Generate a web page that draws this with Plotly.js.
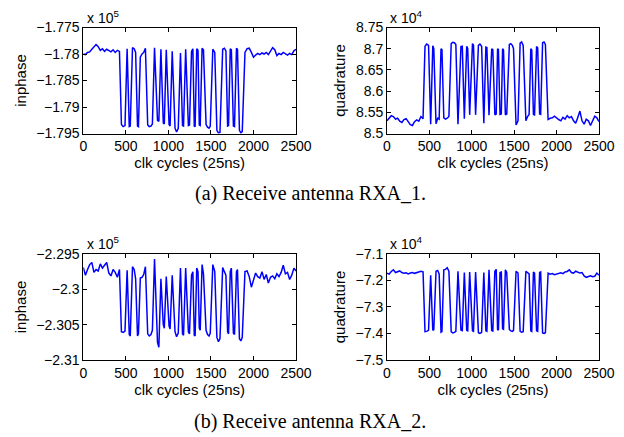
<!DOCTYPE html>
<html>
<head>
<meta charset="utf-8">
<script src="https://cdn.plot.ly/plotly-3.0.1.min.js"></script>
<style>
  html, body { margin: 0; padding: 0; background: #ffffff; }
  #chart { width: 624px; height: 437px; }
</style>
</head>
<body>
<div id="chart"></div>
<script>
// Clock cycle sample positions (shared by all four traces)
const cycles = [
  0,25,50,75,100,125,150,175,200,225,250,275,300,325,350,375,400,425,
  448,468,490, 515, 540,552, 578,598,615, 637,648, 670,690,710,730,
  757,775,795,812, 837, 872,888, 912, 940,952, 975, 1008,1020, 1045,
  1078,1096,1116, 1142, 1166,1178, 1203, 1235,1248, 1272,1288, 1304,1314,
  1333,1348, 1363,1374, 1396,1412, 1443,1460,1478,1492, 1522,1545,
  1570,1588,1606, 1638,1658,1676, 1696,1707, 1727,1740, 1764,1777,
  1800,1812, 1835,1852,1868,
  1900,1925,1950,1975,2000,2025,2050,2075,2100,2125,2150,2175,2200,
  2225,2250,2275,2300,2325,2350,2375,2400,2425,2450,2475,2500
];

// (a) RXA_1 inphase, in units of 1e5
const inphaseRxa1 = [
  -1.7800,-1.7801,-1.7797,-1.7796,-1.7791,-1.7787,-1.7782,-1.7786,-1.7793,-1.7790,-1.7795,-1.7791,-1.7794,-1.7796,-1.7792,-1.7797,-1.7793,-1.7795,
  -1.7933,-1.7937,-1.7935, -1.7790, -1.7937,-1.7936, -1.7788,-1.7790,-1.7797, -1.7936,-1.7937, -1.7806,-1.7800,-1.7797,-1.7789,
  -1.7934,-1.7937,-1.7936,-1.7932, -1.7788, -1.7925,-1.7927, -1.7791, -1.7930,-1.7932, -1.7792, -1.7933,-1.7936, -1.7795,
  -1.7940,-1.7947,-1.7940, -1.7798, -1.7935,-1.7936, -1.7791, -1.7935,-1.7934, -1.7795,-1.7790, -1.7936,-1.7937,
  -1.7790,-1.7793, -1.7934,-1.7935, -1.7789,-1.7792, -1.7933,-1.7938,-1.7940,-1.7936, -1.7791,-1.7797,
  -1.7944,-1.7949,-1.7948, -1.7791,-1.7789,-1.7794, -1.7936,-1.7935, -1.7790,-1.7792, -1.7936,-1.7937,
  -1.7789,-1.7791, -1.7944,-1.7949,-1.7946,
  -1.7797,-1.7790,-1.7789,-1.7797,-1.7806,-1.7802,-1.7799,-1.7801,-1.7798,-1.7800,-1.7797,-1.7801,-1.7795,
  -1.7788,-1.7792,-1.7803,-1.7799,-1.7801,-1.7797,-1.7800,-1.7802,-1.7799,-1.7801,-1.7794,-1.7791
];

// (a) RXA_1 quadrature, in units of 1e4
const quadratureRxa1 = [
  8.530,8.537,8.542,8.540,8.534,8.536,8.529,8.526,8.533,8.535,8.527,8.521,8.519,8.528,8.532,8.529,8.540,8.535,
  8.706,8.711,8.708, 8.522, 8.707,8.700, 8.523,8.536,8.534, 8.700,8.698, 8.537,8.534,8.536,8.540,
  8.712,8.715,8.714,8.710, 8.522, 8.705,8.706, 8.535, 8.706,8.700, 8.544, 8.712,8.708, 8.544,
  8.708,8.711,8.706, 8.524, 8.704,8.703, 8.543, 8.700,8.698, 8.544,8.546, 8.700,8.698,
  8.545,8.546, 8.700,8.697, 8.544,8.546, 8.710,8.712,8.708,8.700, 8.520,8.530,
  8.713,8.716,8.708, 8.530,8.540,8.545, 8.700,8.697, 8.545,8.544, 8.705,8.702,
  8.546,8.545, 8.714,8.716,8.710,
  8.533,8.536,8.537,8.541,8.536,8.533,8.530,8.538,8.534,8.542,8.537,8.540,8.530,
  8.524,8.538,8.553,8.530,8.522,8.534,8.530,8.519,8.530,8.541,8.537,8.528
];

// (b) RXA_2 inphase, in units of 1e5
const inphaseRxa2 = [
  -2.2969,-2.2980,-2.2972,-2.2965,-2.2962,-2.2976,-2.2972,-2.2974,-2.2964,-2.2970,-2.2966,-2.2962,-2.2977,-2.2981,-2.2972,-2.2976,-2.2983,-2.2972,
  -2.3060,-2.3061,-2.3059, -2.2973, -2.3064,-2.3066, -2.2968,-2.2972,-2.2985, -2.3066,-2.3063, -2.2984,-2.2983,-2.2979,-2.2968,
  -2.3063,-2.3066,-2.3064,-2.3058, -2.2957, -2.3075,-2.3082, -2.2985, -2.3050,-2.3055, -2.2982, -2.3052,-2.3056, -2.2980,
  -2.3060,-2.3067,-2.3062, -2.2970, -2.3063,-2.3065, -2.2970, -2.3060,-2.3063, -2.2980,-2.2975, -2.3065,-2.3066,
  -2.2970,-2.2975, -2.3055,-2.3058, -2.2965,-2.2978, -2.3058,-2.3064,-2.3066,-2.3062, -2.2965,-2.2975,
  -2.3068,-2.3074,-2.3070, -2.2969,-2.2975,-2.2980, -2.3060,-2.3063, -2.2975,-2.2970, -2.3062,-2.3064,
  -2.2975,-2.2972, -2.3070,-2.3073,-2.3068,
  -2.2975,-2.2974,-2.2982,-2.2997,-2.2985,-2.2977,-2.2982,-2.2984,-2.2975,-2.2986,-2.2979,-2.2991,-2.2983,
  -2.2981,-2.2985,-2.2978,-2.2982,-2.2976,-2.2966,-2.2978,-2.2976,-2.2986,-2.2980,-2.2970,-2.2974
];

// (b) RXA_2 quadrature, in units of 1e4
const quadratureRxa2 = [
  -7.172,-7.176,-7.166,-7.160,-7.170,-7.168,-7.164,-7.170,-7.173,-7.171,-7.175,-7.172,-7.170,-7.173,-7.171,-7.168,-7.165,-7.167,
  -7.393,-7.392,-7.388, -7.180, -7.388,-7.385, -7.165,-7.162,-7.175, -7.395,-7.393, -7.160,-7.158,-7.152,-7.165,
  -7.393,-7.398,-7.396,-7.392, -7.165, -7.387,-7.389, -7.170, -7.388,-7.390, -7.168, -7.390,-7.392, -7.168,
  -7.397,-7.400,-7.396, -7.170, -7.390,-7.392, -7.160, -7.389,-7.391, -7.165,-7.158, -7.385,-7.387,
  -7.170,-7.168, -7.382,-7.384, -7.160,-7.170, -7.385,-7.390,-7.392,-7.388, -7.165,-7.172,
  -7.392,-7.395,-7.393, -7.165,-7.170,-7.175, -7.390,-7.392, -7.168,-7.172, -7.390,-7.392,
  -7.170,-7.168, -7.398,-7.400,-7.397,
  -7.172,-7.176,-7.174,-7.178,-7.175,-7.173,-7.171,-7.174,-7.168,-7.166,-7.160,-7.170,-7.172,
  -7.165,-7.168,-7.172,-7.170,-7.183,-7.188,-7.185,-7.182,-7.186,-7.184,-7.172,-7.180
];

// Tick labels
const xTicks = [0, 500, 1000, 1500, 2000, 2500];
const yTicksA1 = [-1.795, -1.79, -1.785, -1.78, -1.775];
const yLabelsA1 = ['\u22121.795', '\u22121.79', '\u22121.785', '\u22121.78', '\u22121.775'];
const yTicksB1 = [8.5, 8.55, 8.6, 8.65, 8.7, 8.75];
const yLabelsB1 = ['8.5', '8.55', '8.6', '8.65', '8.7', '8.75'];
const yTicksA2 = [-2.31, -2.305, -2.3, -2.295];
const yLabelsA2 = ['\u22122.31', '\u22122.305', '\u22122.3', '\u22122.295'];
const yTicksB2 = [-7.5, -7.4, -7.3, -7.2, -7.1];
const yLabelsB2 = ['\u22127.5', '\u22127.4', '\u22127.3', '\u22127.2', '\u22127.1'];

const SANS = 'Liberation Sans, Arial, sans-serif';
const SERIF = 'Liberation Serif, Times New Roman, serif';
const lineStyle = { color: '#0000ff', width: 1.5 };

const traces = [
  { x: cycles, y: inphaseRxa1, xaxis: 'x', yaxis: 'y', type: 'scatter', mode: 'lines', line: lineStyle, name: 'RXA_1 inphase' },
  { x: cycles, y: quadratureRxa1, xaxis: 'x2', yaxis: 'y2', type: 'scatter', mode: 'lines', line: lineStyle, name: 'RXA_1 quadrature' },
  { x: cycles, y: inphaseRxa2, xaxis: 'x3', yaxis: 'y3', type: 'scatter', mode: 'lines', line: lineStyle, name: 'RXA_2 inphase' },
  { x: cycles, y: quadratureRxa2, xaxis: 'x4', yaxis: 'y4', type: 'scatter', mode: 'lines', line: lineStyle, name: 'RXA_2 quadrature' }
];

function xAxis(domain, anchor) {
  return {
    domain: domain, anchor: anchor, range: [0, 2500],
    tickmode: 'array', tickvals: xTicks, ticktext: xTicks.map(String),
    showline: true, mirror: 'ticks', linecolor: '#000', linewidth: 1,
    ticks: 'inside', ticklen: 4, tickcolor: '#000',
    showgrid: false, zeroline: false,
    tickfont: { family: SANS, size: 14, color: '#000' },
    title: { text: 'clk cycles (25ns)', font: { family: SANS, size: 15, color: '#000' }, standoff: 4 }
  };
}
function yAxis(domain, anchor, range, vals, labels, title) {
  return {
    domain: domain, anchor: anchor, range: range,
    tickmode: 'array', tickvals: vals, ticktext: labels,
    showline: true, mirror: 'ticks', linecolor: '#000', linewidth: 1,
    ticks: 'inside', ticklen: 4, tickcolor: '#000',
    showgrid: false, zeroline: false,
    tickfont: { family: SANS, size: 14, color: '#000' },
    title: { text: title, font: { family: SANS, size: 15, color: '#000' }, standoff: 6 }
  };
}

const dxL = [0.1335, 0.4744];
const dxR = [0.6202, 0.9599];
const dyT = [0.6945, 0.9370];
const dyB = [0.1762, 0.4188];

const layout = {
  width: 624, height: 437,
  margin: { l: 0, r: 0, t: 0, b: 0 },
  paper_bgcolor: '#fff', plot_bgcolor: '#fff',
  showlegend: false,
  xaxis: xAxis(dxL, 'y'),
  yaxis: yAxis(dyT, 'x', [-1.795, -1.775], yTicksA1, yLabelsA1, 'inphase'),
  xaxis2: xAxis(dxR, 'y2'),
  yaxis2: yAxis(dyT, 'x2', [8.5, 8.75], yTicksB1, yLabelsB1, 'quadrature'),
  xaxis3: xAxis(dxL, 'y3'),
  yaxis3: yAxis(dyB, 'x3', [-2.31, -2.295], yTicksA2, yLabelsA2, 'inphase'),
  xaxis4: xAxis(dxR, 'y4'),
  yaxis4: yAxis(dyB, 'x4', [-7.5, -7.1], yTicksB2, yLabelsB2, 'quadrature'),
  annotations: [
    { text: 'x 10<sup>5</sup>', xref: 'paper', yref: 'paper', x: dxL[0] + 0.002, y: dyT[1], xanchor: 'left', yanchor: 'bottom', showarrow: false, font: { family: SANS, size: 14, color: '#000' } },
    { text: 'x 10<sup>4</sup>', xref: 'paper', yref: 'paper', x: dxR[0] + 0.002, y: dyT[1], xanchor: 'left', yanchor: 'bottom', showarrow: false, font: { family: SANS, size: 14, color: '#000' } },
    { text: 'x 10<sup>5</sup>', xref: 'paper', yref: 'paper', x: dxL[0] + 0.002, y: dyB[1], xanchor: 'left', yanchor: 'bottom', showarrow: false, font: { family: SANS, size: 14, color: '#000' } },
    { text: 'x 10<sup>4</sup>', xref: 'paper', yref: 'paper', x: dxR[0] + 0.002, y: dyB[1], xanchor: 'left', yanchor: 'bottom', showarrow: false, font: { family: SANS, size: 14, color: '#000' } },
    { text: '(a) Receive antenna RXA_1.', xref: 'paper', yref: 'paper', x: 0.497, y: 1 - 193 / 437, xanchor: 'center', yanchor: 'middle', showarrow: false, font: { family: SERIF, size: 20, color: '#000' } },
    { text: '(b) Receive antenna RXA_2.', xref: 'paper', yref: 'paper', x: 0.497, y: 1 - 421 / 437, xanchor: 'center', yanchor: 'middle', showarrow: false, font: { family: SERIF, size: 20, color: '#000' } }
  ]
};

Plotly.newPlot('chart', traces, layout, { staticPlot: true, displayModeBar: false });
</script>
</body>
</html>
